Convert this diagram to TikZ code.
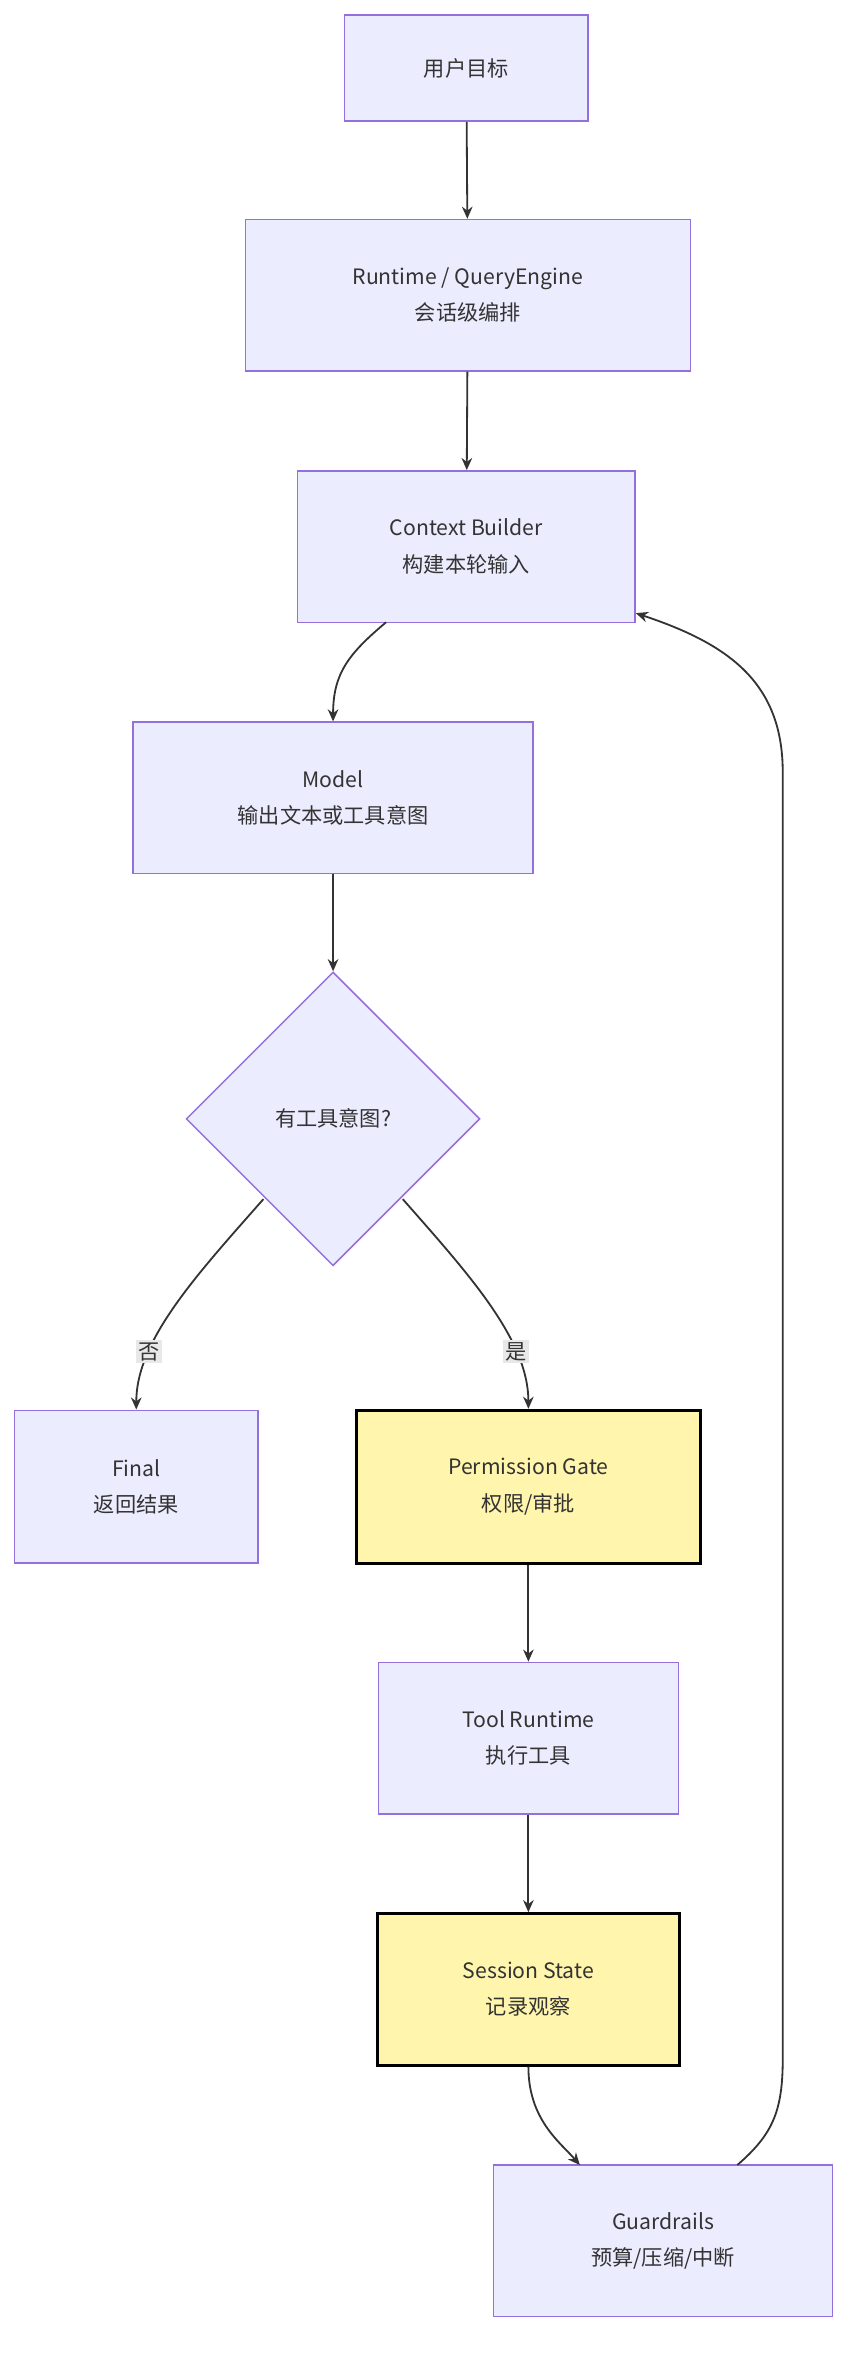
\documentclass[tikz,border=0pt]{standalone}
\usepackage{fontspec}
\setmainfont{Noto Sans CJK SC}
\usetikzlibrary{shapes.geometric,arrows.meta}
\definecolor{pfill}{HTML}{ECECFF}
\definecolor{pline}{HTML}{9370DB}
\definecolor{yfill}{HTML}{FFF5AD}
\definecolor{txt}{HTML}{333333}
\definecolor{edge}{HTML}{333333}
\begin{document}
\begin{tikzpicture}[x=1pt,y=-1pt,
  box/.style={draw=pline,fill=pfill,line width=1pt,align=center,text=txt,font=\fontsize{14}{24}\selectfont,inner sep=0pt},
  hl/.style={box,draw=black,fill=yfill,line width=2pt},
  arr/.style={draw=edge,line width=1.2pt,-{Stealth[length=8pt,width=7pt]}},
  lab/.style={fill=gray!18,text=txt,font=\fontsize{14}{16}\selectfont,inner sep=1.5pt}]
\useasboundingbox (0,0) rectangle (572,1572);
\node[box,minimum width=161pt,minimum height=70pt] (goal) at (308,45) {用户目标};
\node[box,minimum width=294pt,minimum height=100pt] (rt) at (309,195) {Runtime / QueryEngine\\会话级编排};
\node[box,minimum width=223pt,minimum height=100pt] (ctx) at (308,361) {Context Builder\\构建本轮输入};
\node[box,minimum width=264pt,minimum height=100pt] (model) at (220,527) {Model\\输出文本或工具意图};
\node[box,diamond,minimum width=194pt,minimum height=194pt] (dec) at (220,739) {有工具意图?};
\node[box,minimum width=161pt,minimum height=101pt] (final) at (90,982) {Final\\返回结果};
\node[hl,minimum width=227pt,minimum height=101pt] (perm) at (349,982) {Permission Gate\\权限/审批};
\node[box,minimum width=198pt,minimum height=100pt] (tool) at (349,1148) {Tool Runtime\\执行工具};
\node[hl,minimum width=199pt,minimum height=100pt] (sess) at (349,1314) {Session State\\记录观察};
\node[box,minimum width=224pt,minimum height=100pt] (guard) at (438,1480) {Guardrails\\预算/压缩/中断};
\coordinate (g1) at (487,1430);
\coordinate (c1) at (420,405);
\coordinate (d1) at (174,792);
\coordinate (d2) at (266,792);
\draw[arr] (goal) -- (rt);
\draw[arr] (rt) -- (ctx);
\draw[arr] (255,411) .. controls (230,432) and (220,445) .. (model.north);
\draw[arr] (model) -- (dec);
\draw[arr] (d1) .. controls (130,842) and (90,885) .. node[lab,pos=0.72]{否} (final.north);
\draw[arr] (d2) .. controls (310,842) and (349,885) .. node[lab,pos=0.72]{是} (perm.north);
\draw[arr] (perm) -- (tool);
\draw[arr] (tool) -- (sess);
\draw[arr] (sess.south) .. controls (349,1400) and (370,1415) .. (383,1430);
\draw[arr] (g1) .. controls (510,1410) and (517,1395) .. (517,1360) -- (517,510) .. controls (517,450) and (480,425) .. (c1);
\end{tikzpicture}
\end{document}
